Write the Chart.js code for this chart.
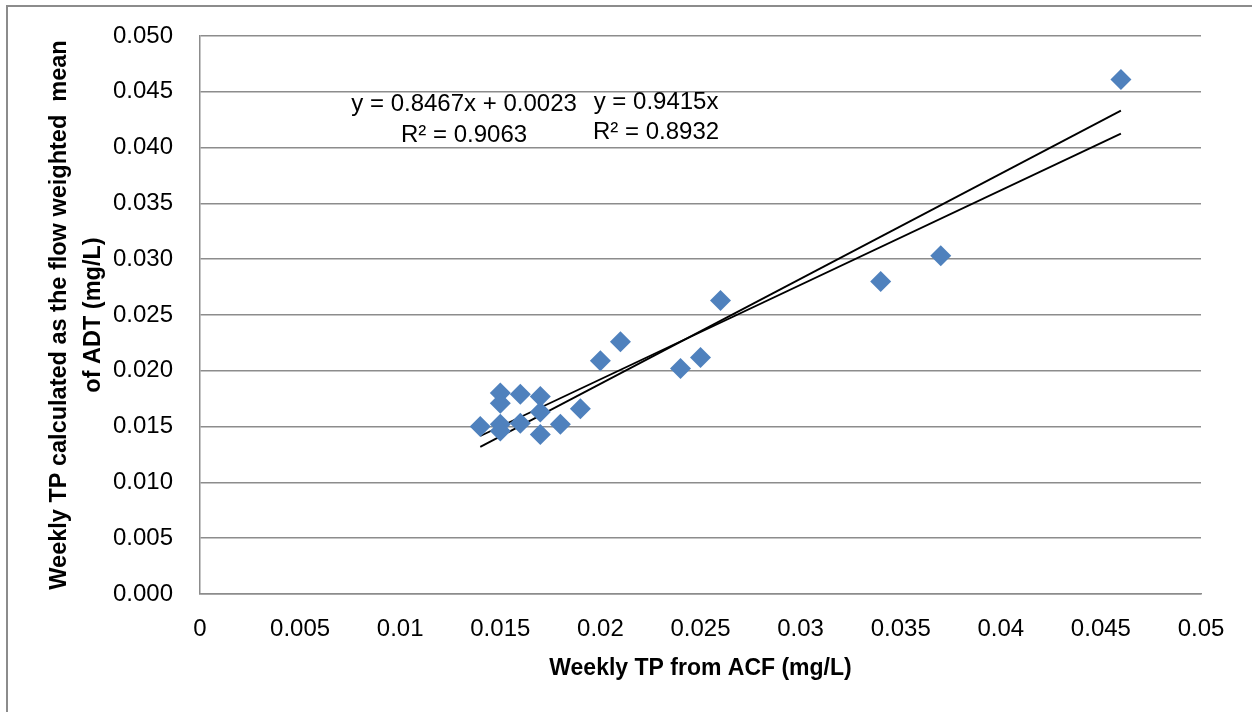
<!DOCTYPE html>
<html>
<head>
<meta charset="utf-8">
<title>Weekly TP: ADT vs ACF</title>
<script src="https://cdn.jsdelivr.net/npm/chart.js@4.4.0/dist/chart.umd.min.js"></script>
<style>
    html, body { margin: 0; padding: 0; background: #fff; }
    #wrap { width: 1252px; height: 712px; }
</style>
</head>
<body>
<div id="wrap"><canvas id="tpChart" width="1252" height="712"></canvas></div>
<script>
// Datos
const acfTP = [0.014, 0.015, 0.015, 0.015, 0.015, 0.016, 0.016, 0.017, 0.017, 0.017,
               0.018, 0.019, 0.020, 0.021, 0.024, 0.025, 0.026, 0.034, 0.037, 0.046];
const adtTP = [0.0150, 0.0180, 0.0171, 0.0152, 0.0146, 0.0179, 0.0153, 0.0177, 0.0163, 0.0143,
               0.0152, 0.0166, 0.0209, 0.0226, 0.0202, 0.0212, 0.0263, 0.0280, 0.0303, 0.0461];

// Lineas de tendencia (Excel)
const trendSlopes = [0.8467, 0.9415];
const trendIntercepts = [0.0023, 0];
const trendEquations = [
    ['y = 0.8467x + 0.0023', 'R² = 0.9063'],
    ['y = 0.9415x', 'R² = 0.8932']
];

const xTitle = 'Weekly TP from ACF (mg/L)';
const yTitle = ['Weekly TP calculated as the flow weighted  mean', 'of ADT (mg/L)'];

const FONT = "'Liberation Sans', Arial, sans-serif";

// Posicion de las etiquetas de ecuacion en unidades de datos
const labelSpots = [
    { x: 0.01319, y: [0.04391, 0.04113] },
    { x: 0.02278, y: [0.04409, 0.04140] }
];

const xMin = Math.min(...acfTP);
const xMax = Math.max(...acfTP);

const trendSets = trendSlopes.map((m, i) => ({
    type: 'line',
    data: [
        { x: xMin, y: m * xMin + trendIntercepts[i] },
        { x: xMax, y: m * xMax + trendIntercepts[i] }
    ],
    borderColor: '#000',
    borderWidth: 1.8,
    pointRadius: 0,
    fill: false
}));

// Marco exterior del grafico
const framePlugin = {
    id: 'frame',
    beforeDraw(chart) {
        const ctx = chart.ctx;
        ctx.save();
        ctx.fillStyle = '#fff';
        ctx.fillRect(0, 0, chart.width, chart.height);
        ctx.strokeStyle = '#8c8c8c';
        ctx.lineWidth = 2;
        ctx.beginPath();
        ctx.moveTo(7, chart.height);
        ctx.lineTo(7, 6);
        ctx.lineTo(chart.width, 6);
        ctx.stroke();
        ctx.restore();
    }
};

// Texto de las ecuaciones
const equationPlugin = {
    id: 'equations',
    afterDatasetsDraw(chart) {
        const ctx = chart.ctx;
        const xs = chart.scales.x, ys = chart.scales.y;
        ctx.save();
        ctx.font = '24px ' + FONT;
        ctx.fillStyle = '#000';
        ctx.textAlign = 'center';
        ctx.textBaseline = 'middle';
        trendEquations.forEach((lines, i) => {
            const spot = labelSpots[i];
            lines.forEach((txt, j) => {
                ctx.fillText(txt, xs.getPixelForValue(spot.x), ys.getPixelForValue(spot.y[j]));
            });
        });
        ctx.restore();
    }
};

const ctx = document.getElementById('tpChart').getContext('2d');
const tpChart = new Chart(ctx, {
    type: 'scatter',
    data: {
        datasets: [{
            data: acfTP.map((v, i) => ({ x: v, y: adtTP[i] })),
            backgroundColor: '#4f81bd',
            borderColor: '#4f81bd',
            borderWidth: 0,
            pointStyle: 'rectRot',
            pointRadius: 10.5,
            pointHoverRadius: 10.5
        }, ...trendSets]
    },
    options: {
        responsive: false,
        animation: false,
        layout: { padding: { left: 0, top: 36, right: 51, bottom: 0 } },
        plugins: {
            legend: { display: false },
            tooltip: { enabled: false }
        },
        scales: {
            x: {
                type: 'linear',
                min: 0,
                max: 0.05,
                ticks: {
                    stepSize: 0.005,
                    padding: 13,
                    color: '#000',
                    font: { family: FONT, size: 24 },
                    maxRotation: 0,
                    callback: v => String(+v.toFixed(3))
                },
                grid: { display: false },
                border: { display: true, color: '#8c8c8c', width: 1.5 },
                title: {
                    display: true,
                    text: xTitle,
                    color: '#000',
                    font: { family: FONT, size: 23, weight: 'bold' },
                    padding: { top: 0, bottom: 30 }
                },
                afterFit: scale => { scale.height = 118; }
            },
            y: {
                type: 'linear',
                min: 0,
                max: 0.05,
                ticks: {
                    stepSize: 0.005,
                    padding: 0,
                    color: '#000',
                    font: { family: FONT, size: 24 },
                    callback: v => v.toFixed(3)
                },
                grid: {
                    color: '#8c8c8c',
                    lineWidth: 1.5,
                    drawTicks: true,
                    tickLength: 27,
                    tickColor: 'rgba(0,0,0,0)'
                },
                border: { display: true, color: '#8c8c8c', width: 1.5 },
                title: {
                    display: true,
                    text: yTitle,
                    color: '#000',
                    font: { family: FONT, size: 23.5, weight: 'bold', lineHeight: 34 / 23.5 },
                    padding: { top: 43, bottom: 0 }
                },
                afterFit: scale => { scale.width = 200; }
            }
        }
    },
    plugins: [framePlugin, equationPlugin]
});
</script>
</body>
</html>
